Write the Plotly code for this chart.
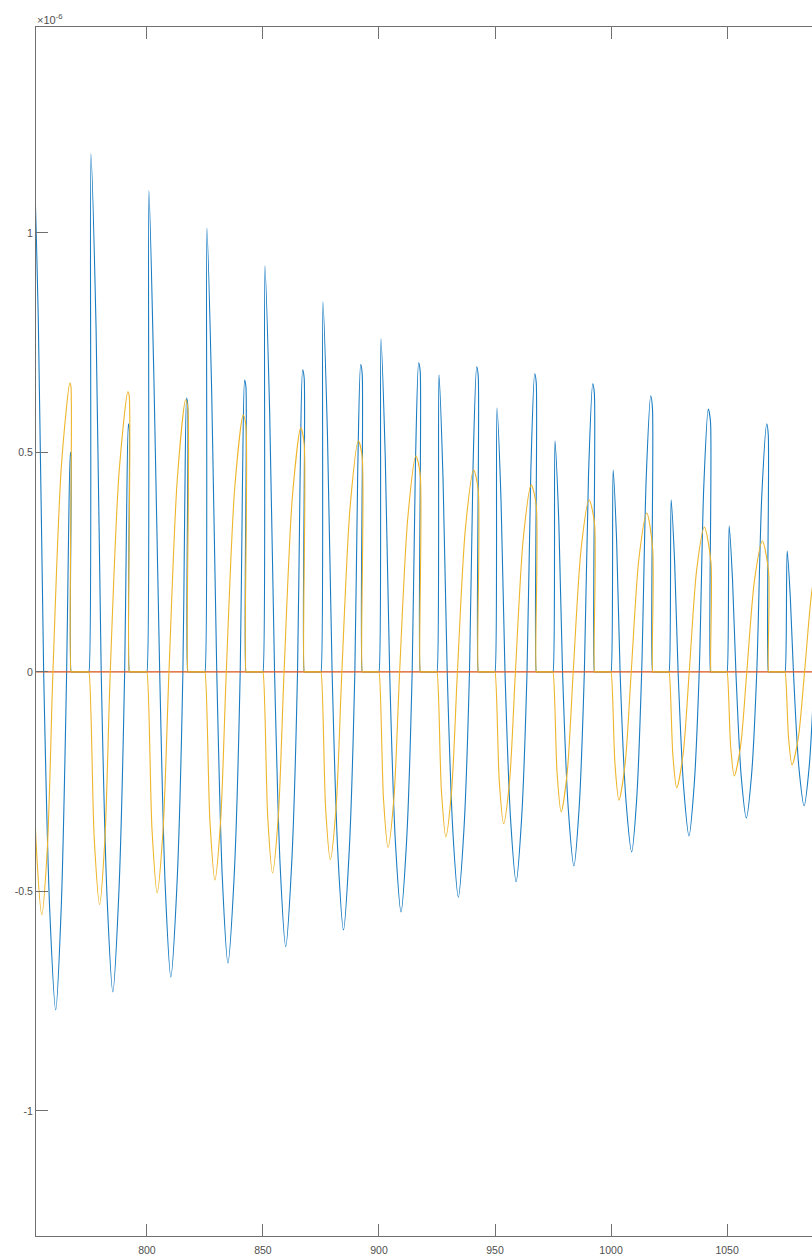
import plotly.graph_objects as go

# values are in units of 1e-6
blue_x = [
    750.0, 750.85, 753.2, 755.5, 758.1, 760.7, 763.05, 765.4, 766.2, 767.0, 767.3, 767.35, 767.55, 774.8,
    775.0, 775.85, 778.1, 780.3, 782.8, 785.3, 787.85, 790.4, 791.2, 792.0, 792.4, 792.45, 792.65, 799.8,
    800.0, 800.85, 803.0, 805.5, 807.9, 810.3, 812.9, 815.5, 816.3, 817.1, 817.55, 817.6, 817.8, 824.8,
    825.0, 825.85, 827.9, 830.1, 832.5, 834.9, 837.55, 840.2, 841.15, 842.1, 842.65, 842.7, 842.9, 849.8,
    850.0, 850.85, 852.9, 855.0, 857.4, 859.8, 862.35, 864.9, 866.0, 867.1, 867.75, 867.8, 868.0, 874.8,
    875.0, 875.85, 877.8, 879.8, 882.25, 884.7, 887.15, 889.6, 890.85, 892.1, 892.75, 892.8, 893.0, 899.8,
    900.0, 900.85, 902.7, 904.6, 907.05, 909.5, 911.9, 914.3, 915.7, 917.1, 917.75, 917.8, 918.0, 924.8,
    925.0, 925.85, 927.6, 929.4, 931.8, 934.2, 936.6, 939.0, 940.55, 942.1, 942.75, 942.8, 943.0, 949.8,
    950.0, 950.85, 952.6, 954.3, 956.7, 959.1, 961.45, 963.8, 965.45, 967.1, 967.75, 967.8, 968.0, 974.8,
    975.0, 975.85, 977.5, 979.1, 981.55, 984.0, 986.25, 988.5, 990.3, 992.1, 992.8, 992.85, 993.05, 999.8,
    1000.0, 1000.9, 1002.4, 1003.9, 1006.4, 1008.9, 1011.05, 1013.2, 1015.15, 1017.1, 1017.85, 1017.9, 1018.1, 1024.8,
    1025.0, 1025.9, 1027.4, 1028.9, 1031.25, 1033.6, 1035.8, 1038.0, 1039.95, 1041.9, 1042.85, 1042.9, 1043.1, 1049.8,
    1050.0, 1050.9, 1052.35, 1053.8, 1056.05, 1058.3, 1060.55, 1062.8, 1064.95, 1067.1, 1067.75, 1067.8, 1068.0, 1074.8,
    1075.0, 1075.9, 1077.25, 1078.6, 1080.9, 1083.2, 1085.4, 1087.6, 1089.9, 1092.1,
]
blue_y = [
    0, 1.22, 0.80, 0, -0.54, -0.77, -0.54, 0, 0.30, 0.50, 0.49, 0, 0, 0,
    0, 1.18, 0.78, 0, -0.51, -0.729, -0.51, 0, 0.34, 0.565, 0.55, 0, 0, 0,
    0, 1.096, 0.67, 0, -0.49, -0.695, -0.49, 0, 0.38, 0.624, 0.61, 0, 0, 0,
    0, 1.011, 0.64, 0, -0.47, -0.663, -0.47, 0, 0.42, 0.665, 0.65, 0, 0, 0,
    0, 0.925, 0.59, 0, -0.44, -0.626, -0.44, 0, 0.44, 0.688, 0.67, 0, 0, 0,
    0, 0.843, 0.54, 0, -0.41, -0.588, -0.41, 0, 0.46, 0.700, 0.68, 0, 0, 0,
    0, 0.759, 0.49, 0, -0.385, -0.547, -0.385, 0, 0.47, 0.704, 0.685, 0, 0, 0,
    0, 0.677, 0.44, 0, -0.36, -0.513, -0.36, 0, 0.47, 0.695, 0.675, 0, 0, 0,
    0, 0.601, 0.39, 0, -0.335, -0.478, -0.335, 0, 0.46, 0.679, 0.66, 0, 0, 0,
    0, 0.526, 0.34, 0, -0.31, -0.442, -0.31, 0, 0.45, 0.656, 0.635, 0, 0, 0,
    0, 0.46, 0.30, 0, -0.29, -0.41, -0.29, 0, 0.44, 0.629, 0.60, 0, 0, 0,
    0, 0.392, 0.25, 0, -0.26, -0.374, -0.26, 0, 0.42, 0.599, 0.57, 0, 0, 0,
    0, 0.333, 0.21, 0, -0.235, -0.333, -0.235, 0, 0.40, 0.565, 0.54, 0, 0, 0,
    0, 0.276, 0.17, 0, -0.215, -0.305, -0.215, 0, 0.37, 0.53,
]

orange_x = [750.0, 1095.0]
orange_y = [0, 0]

yellow_x = [
    750.0, 752.35, 754.7, 757.1, 759.5, 763.15, 766.8, 767.25, 767.3, 767.5, 774.8,
    775.0, 777.3, 779.6, 781.9, 784.2, 788.0, 791.8, 792.35, 792.4, 792.6, 799.8,
    800.0, 802.2, 804.4, 806.95, 809.5, 813.1, 816.7, 817.65, 817.7, 817.9, 824.8,
    825.0, 827.15, 829.3, 831.75, 834.2, 837.85, 841.5, 842.65, 842.7, 842.9, 849.8,
    850.0, 852.05, 854.1, 856.6, 859.1, 862.7, 866.3, 867.75, 867.8, 868.0, 874.8,
    875.0, 877.0, 879.0, 881.5, 884.0, 887.55, 891.1, 892.75, 892.8, 893.0, 899.8,
    900.0, 901.95, 903.9, 906.4, 908.9, 912.4, 915.9, 917.75, 917.8, 918.0, 924.8,
    925.0, 926.9, 928.8, 931.3, 933.8, 937.3, 940.8, 942.75, 942.8, 943.0, 949.8,
    950.0, 951.85, 953.7, 956.25, 958.8, 962.2, 965.6, 967.75, 967.8, 968.0, 974.8,
    975.0, 976.75, 978.5, 981.1, 983.7, 987.1, 990.5, 992.85, 992.9, 993.1, 999.8,
    1000.0, 1001.7, 1003.4, 1006.05, 1008.7, 1012.05, 1015.4, 1017.95, 1018.0, 1018.2, 1024.8,
    1025.0, 1026.65, 1028.3, 1031.0, 1033.7, 1036.95, 1040.2, 1043.05, 1043.1, 1043.3, 1049.8,
    1050.0, 1051.55, 1053.1, 1055.8, 1058.5, 1061.85, 1065.2, 1067.85, 1067.9, 1068.1, 1074.8,
    1075.0, 1076.5, 1078.0, 1080.7, 1083.4, 1086.7, 1090.0,
]
yellow_y = [
    0, -0.40, -0.553, -0.40, 0, 0.47, 0.658, 0.65, 0, 0, 0,
    0, -0.38, -0.53, -0.38, 0, 0.455, 0.638, 0.63, 0, 0, 0,
    0, -0.36, -0.503, -0.36, 0, 0.44, 0.62, 0.60, 0, 0, 0,
    0, -0.34, -0.474, -0.34, 0, 0.42, 0.585, 0.56, 0, 0, 0,
    0, -0.33, -0.458, -0.33, 0, 0.40, 0.556, 0.52, 0, 0, 0,
    0, -0.31, -0.428, -0.31, 0, 0.375, 0.526, 0.49, 0, 0, 0,
    0, -0.29, -0.40, -0.29, 0, 0.35, 0.492, 0.45, 0, 0, 0,
    0, -0.27, -0.376, -0.27, 0, 0.33, 0.46, 0.415, 0, 0, 0,
    0, -0.25, -0.346, -0.25, 0, 0.305, 0.426, 0.38, 0, 0, 0,
    0, -0.23, -0.319, -0.23, 0, 0.28, 0.392, 0.34, 0, 0, 0,
    0, -0.21, -0.292, -0.21, 0, 0.26, 0.362, 0.28, 0, 0, 0,
    0, -0.19, -0.264, -0.19, 0, 0.235, 0.33, 0.25, 0, 0, 0,
    0, -0.17, -0.237, -0.17, 0, 0.21, 0.298, 0.23, 0, 0, 0,
    0, -0.15, -0.212, -0.15, 0, 0.19, 0.27,
]

x_ticks = [800, 850, 900, 950, 1000, 1050]
y_ticks = [-1, -0.5, 0, 0.5, 1]
y_tick_labels = ["-1", "-0.5", "0", "0.5", "1"]

fig = go.Figure()
fig.add_trace(go.Scatter(x=blue_x, y=blue_y, mode="lines",
                         line=dict(color="#1a7cc2", width=1.1, shape="spline", smoothing=0.8)))
fig.add_trace(go.Scatter(x=orange_x, y=orange_y, mode="lines",
                         line=dict(color="#D95319", width=1.1)))
fig.add_trace(go.Scatter(x=yellow_x, y=yellow_y, mode="lines",
                         line=dict(color="#EEB52A", width=1.1, shape="spline", smoothing=0.8)))

axis_col = "#707070"
tick_font = dict(family="Liberation Sans, Arial, sans-serif", size=10.5, color="#505050")

fig.update_layout(
    width=812, height=1256,
    margin=dict(l=36, r=0, t=27, b=20, autoexpand=False),
    paper_bgcolor="white", plot_bgcolor="white",
    showlegend=False,
    xaxis=dict(range=[752.2, 1086.6], tickvals=x_ticks, ticks="inside", ticklen=12,
               tickcolor=axis_col, showline=True, linecolor=axis_col, linewidth=1,
               mirror="ticks", showgrid=False, zeroline=False, tickfont=tick_font,
               automargin=False, ticklabelstandoff=4),
    yaxis=dict(range=[-1.285, 1.469], tickvals=y_ticks, ticktext=y_tick_labels,
               ticks="inside", ticklen=12, tickcolor=axis_col, showline=True,
               linecolor=axis_col, linewidth=1, mirror=False, showgrid=False,
               zeroline=False, tickfont=tick_font, automargin=False),
    annotations=[dict(text="×10<sup>-6</sup>", xref="paper", yref="paper", x=0, y=1,
                      xanchor="left", yanchor="bottom", showarrow=False, xshift=-1, yshift=-1,
                      font=dict(family="Liberation Sans, Arial, sans-serif", size=11, color="#505050"))],
)

fig.write_html("out.html", config={"displayModeBar": False},
               post_script="document.body.style.margin='0';document.body.style.overflow='hidden';")
